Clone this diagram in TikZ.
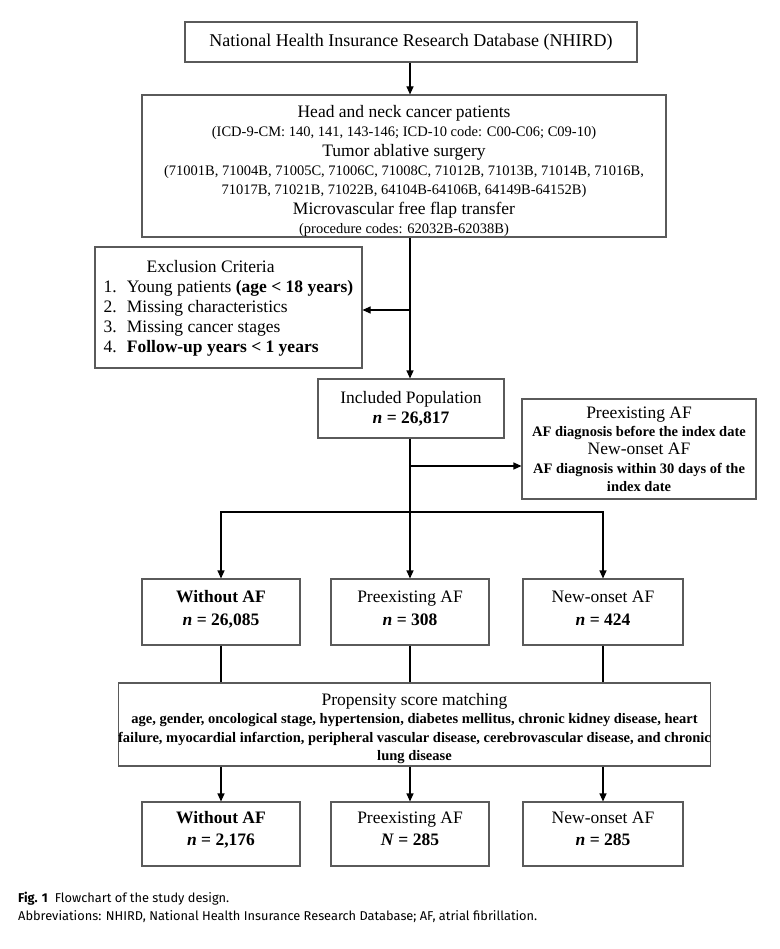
\documentclass[tikz,border=0pt]{standalone}
\usepackage{fontspec}
\setmainfont{Liberation Serif}
\newfontfamily\capfont{Fira Sans}
\usetikzlibrary{arrows.meta}
\definecolor{boxgray}{HTML}{5A5A5A}
\begin{document}
\begin{tikzpicture}[x=1pt,y=-1pt,
  box/.style={draw=boxgray, line width=1.1pt, align=center, inner sep=0pt, text=black},
  arr/.style={line width=1.1pt, -{Triangle[length=8pt,width=7pt]}},
  ln/.style={line width=1.1pt},
  capt/.style={font=\capfont\fontsize{12.8}{14}\selectfont, anchor=base west, inner sep=0pt}
]
\useasboundingbox[fill=white] (0,0) rectangle (779,949);
\newcommand{\sm}{\fontsize{14.5}{19}\selectfont}
\newcommand{\bg}{\fontsize{17.5}{20}\selectfont}
\newcommand{\upstrut}[1]{\rule{0pt}{#1}}
\newcommand{\dnstrut}[1]{\rule[-#1]{0pt}{#1}}

% main column
\coordinate (m) at (410,0);
\coordinate (exbr) at (410,310);
\coordinate (afbr) at (410,466);
\coordinate (split) at (410,512);

\node[box, minimum width=452pt, minimum height=40pt, font=\fontsize{18}{20}\selectfont] (nhird) at (411,42) {National Health Insurance Research Database (NHIRD)};

\node[box, minimum width=524pt, minimum height=142pt, font=\fontsize{14.5}{19.4}\selectfont] (head) at (404,166) {%
{\bg\upstrut{22pt}Head and neck cancer patients}\\
{\sm (ICD-9-CM: 140, 141, 143-146; ICD-10 code: C00-C06; C09-10)}\\
{\bg Tumor ablative surgery}\\
{\sm (71001B, 71004B, 71005C, 71006C, 71008C, 71012B, 71013B, 71014B, 71016B,}\\
{\sm 71017B, 71021B, 71022B, 64104B-64106B, 64149B-64152B)}\\
{\bg Microvascular free flap transfer}\\
{\sm (procedure codes: 62032B-62038B)}};

\node[box, minimum width=267pt, minimum height=121pt, font=\bg] (excl) at (228.5,307.5) {%
\begin{tabular}{@{}l@{\hspace{10pt}}l@{}}
\multicolumn{2}{@{}l@{}}{\hspace{43pt}Exclusion Criteria}\\
1. & Young patients \textbf{(age < 18 years)}\\
2. & Missing characteristics\\
3. & Missing cancer stages\\
4. & \textbf{Follow-up years < 1 years}
\end{tabular}\\[-2pt]};

\node[box, minimum width=186pt, minimum height=59pt, font=\bg] (incl) at (411,408.5) {Included Population\\\textbf{\textit{n} = 26,817}};

\node[box, minimum width=234pt, minimum height=100pt, font=\fontsize{14.5}{18.3}\selectfont] (afdef) at (639,449) {%
{\bg Preexisting AF}\\
{\sm\bfseries AF diagnosis before the index date}\\
{\bg New-onset AF}\\
{\sm\bfseries AF diagnosis within 30 days of the}\\
{\sm\bfseries index date}};

\tikzset{grp/.style={box, font=\fontsize{17.5}{22.5}\selectfont}}
\node[grp, minimum width=158pt, minimum height=66pt] (b1) at (221,612) {\textbf{Without AF}\\\textbf{\textit{n} = 26,085}\dnstrut{8pt}};
\node[grp, minimum width=158pt, minimum height=66pt] (b2) at (410,612) {Preexisting AF\\\textbf{\textit{n} = 308}\dnstrut{8pt}};
\node[grp, minimum width=160pt, minimum height=66pt] (b3) at (603,612) {New-onset AF\\\textbf{\textit{n} = 424}\dnstrut{8pt}};

\node[box, minimum width=585pt, minimum height=83pt, font=\fontsize{14.5}{18.3}\selectfont] (psm) at (414.5,724.5) {%
{\bg\upstrut{20pt}Propensity score matching}\\
{\sm\bfseries age, gender, oncological stage, hypertension, diabetes mellitus, chronic kidney disease, heart}\\
{\sm\bfseries failure, myocardial infarction, peripheral vascular disease, cerebrovascular disease, and chronic}\\
{\sm\bfseries lung disease}};

\node[grp, minimum width=158pt, minimum height=64pt] (c1) at (221,834) {\textbf{Without AF}\\\textbf{\textit{n} = 2,176}\dnstrut{11pt}};
\node[grp, minimum width=158pt, minimum height=64pt] (c2) at (410,834) {Preexisting AF\\\textbf{\textit{N} = 285}\dnstrut{11pt}};
\node[grp, minimum width=160pt, minimum height=64pt] (c3) at (603,834) {New-onset AF\\\textbf{\textit{n} = 285}\dnstrut{11pt}};

% connectors
\draw[arr] (nhird.south -| m) -- (head.north -| m);
\draw[arr] (head.south -| m) -- (incl.north -| m);
\draw[arr] (exbr) -- (excl.east |- exbr);
\draw[ln] (incl.south -| m) -- (split);
\draw[arr] (afbr) -- (afdef.west |- afbr);
\draw[arr] (split) -| (b1.north);
\draw[arr] (split) -| (b3.north);
\draw[arr] (split) -- (b2.north);
\draw[ln] (b1.south) -- (b1.south |- psm.north);
\draw[ln] (b2.south) -- (b2.south |- psm.north);
\draw[ln] (b3.south) -- (b3.south |- psm.north);
\draw[arr] (b1.south |- psm.south) -- (c1.north);
\draw[arr] (b2.south |- psm.south) -- (c2.north);
\draw[arr] (b3.south |- psm.south) -- (c3.north);

% caption
\node[capt] (cap1) at (18,902) {\textbf{Fig. 1}\hspace{7pt}Flowchart of the study design.};
\node[capt] (cap2) at (18,920) {Abbreviations: NHIRD, National Health Insurance Research Database; AF, atrial fibrillation.};
\end{tikzpicture}
\end{document}
